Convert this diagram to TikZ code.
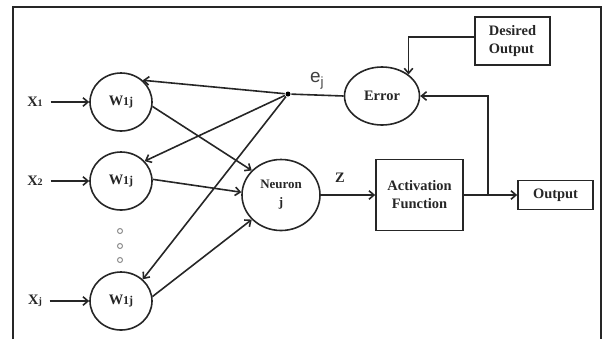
\documentclass[tikz,border=0pt]{standalone}
\usepackage{fontspec}
\setmainfont{Liberation Serif}
\setsansfont{Liberation Sans}
\usetikzlibrary{arrows.meta,shapes.geometric,calc}
\begin{document}
\begin{tikzpicture}[x=1bp,y=-1bp,
  line width=1.6bp, color=black!85,
  txt/.style={font=\fontsize{14.5}{18}\selectfont\bfseries, text=black!85},
  ell/.style={draw, ellipse, inner sep=0pt, txt, align=center},
  box/.style={draw, rectangle, inner sep=0pt, txt, align=center},
  arr/.style={-{Straight Barb[length=5bp,width=8.5bp]}},
  lab/.style={txt, inner sep=1bp},
  frame/.style={line width=2.4bp, color=black!85},
  smalldot/.style={circle, draw=black!45, line width=1bp, minimum size=5bp, inner sep=0pt}]
\useasboundingbox (0,0) rectangle (603,339);
\draw[frame] (13,339) -- (13,7) -- (601,7) -- (601,339);

% inputs
\node[lab] (x1) at (35,102) {X{\fontsize{10}{10}\selectfont 1}};
\node[lab] (x2) at (35,181) {X{\fontsize{10}{10}\selectfont 2}};
\node[lab] (xj) at (35,301) {X{\fontsize{10}{10}\selectfont j}};

% weights
\node[ell, minimum width=62bp, minimum height=58bp] (w1) at (121,102) {W{\fontsize{12}{12}\selectfont 1j}};
\node[ell, minimum width=62bp, minimum height=58bp] (w2) at (121,181) {W{\fontsize{12}{12}\selectfont 1j}};
\node[ell, minimum width=62bp, minimum height=58bp] (w3) at (121,301) {W{\fontsize{12}{12}\selectfont 1j}};

\node[smalldot] (d1) at (120,231) {};
\node[smalldot] (d2) at (120,246) {};
\node[smalldot] (d3) at (120,260) {};

% neuron
\node[ell, minimum width=78bp, minimum height=71bp, font=\fontsize{13}{18}\selectfont\bfseries] (neuron) at (281,195) {Neuron\\j};

% activation
\node[box, minimum width=87bp, minimum height=71bp] (act) at (419.5,195) {Activation\\Function};

% output
\node[box, minimum width=75bp, minimum height=29bp] (out) at (555.5,195) {Output};

% error
\node[ell, minimum width=75bp, minimum height=58bp] (err) at (382,96) {Error};

% desired
\node[box, minimum width=75bp, minimum height=48bp, align=left] (des) at (512.5,41) {Desired\\Output};

% junction dot
\node[circle, fill=black, inner sep=0pt, minimum size=5bp] (dot) at (288,94) {};
\coordinate (jn) at (488,195);

% labels
\node[font=\sffamily\fontsize{19}{19}\selectfont, text=black!75] (ej) at (317,81) {e\textsubscript{j}};
\node[lab] (zl) at (340,178) {Z};

% input arrows
\draw[arr, shorten <=6bp] (x1) -- (w1);
\draw[arr, shorten <=6bp] (x2) -- (w2);
\draw[arr, shorten <=6bp] (xj) -- (w3);

% weights to neuron
\draw[arr] (w1.-8) -- (neuron.140);
\draw[arr] (w2.3) -- (neuron.176);
\draw[arr] (w3.8) -- (neuron.220);

% error feedback to weights
\draw[arr] (dot) -- (w1.45);
\draw[arr] (dot) -- (w2.40);
\draw[arr] (dot) -- (w3.45);

% error line
\draw (err.west) -- (dot);

% neuron to activation
\draw[arr] (neuron.east) -- (act.west);
\draw[arr] (act.east) -- (out.west);
\draw[arr] (jn) |- (err.east);

% desired to error
\draw[arr] ([yshift=4bp]des.west) -| (err.39);
\end{tikzpicture}
\end{document}
